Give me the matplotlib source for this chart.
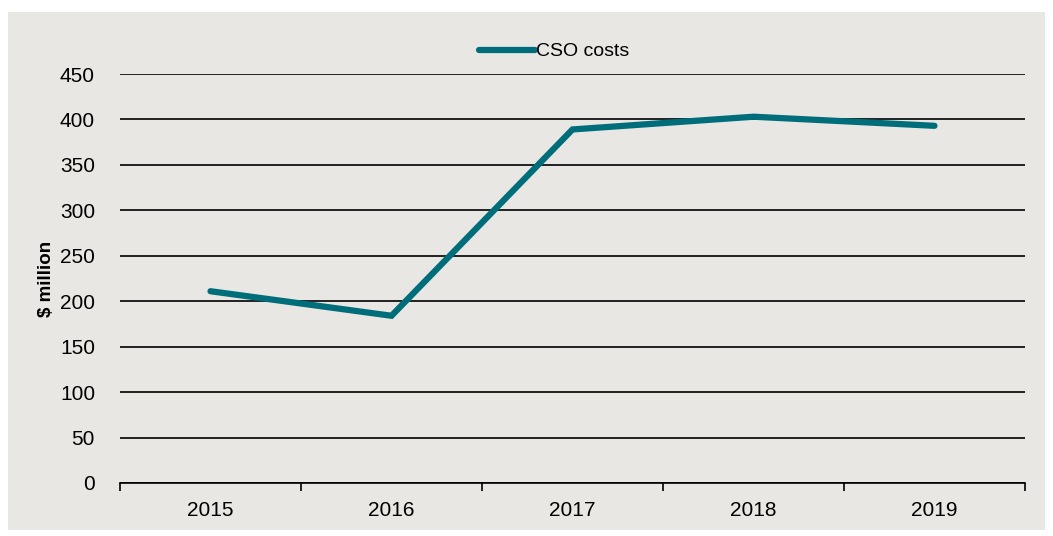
import matplotlib
matplotlib.use("Agg")
import matplotlib.pyplot as plt
from matplotlib.patches import Rectangle
import numpy as np

years = ['2015', '2016', '2017', '2018', '2019']
cso_costs = [211, 184, 389, 403, 393]
yticks = [0, 50, 100, 150, 200, 250, 300, 350, 400, 450]

bg = '#e8e7e3'
teal = '#006e7a'

plt.rcParams['font.family'] = ['Liberation Sans', 'DejaVu Sans']

fig = plt.figure(figsize=(10.53, 5.36), dpi=100)
fig.patch.set_facecolor('white')
# grey panel behind the chart
fig.patches.append(Rectangle((8/1053, 6/536), 1037/1053, 518/536,
                             transform=fig.transFigure, facecolor=bg,
                             edgecolor='none', zorder=-10))

ax = fig.add_axes([120/1053, 1-483/536, 905/1053, 409/536])
ax.set_facecolor('none')

x = np.arange(len(years))
ax.plot(x, cso_costs, color=teal, lw=4.5, solid_capstyle='round',
        solid_joinstyle='miter', label='CSO costs', zorder=3)

ax.set_ylim(0, 450)
ax.set_xlim(-0.5, len(years)-0.5)
ax.set_yticks(yticks)
ax.yaxis.grid(True, color='black', lw=1.2)
ax.set_axisbelow(True)
ax.tick_params(axis='y', length=0, labelsize=15, pad=18)

ax.set_xticks(x)
ax.set_xticklabels(years)
ax.set_xticks(np.arange(len(years)+1)-0.5, minor=True)
ax.tick_params(axis='x', which='major', length=0, labelsize=15, pad=13)
ax.tick_params(axis='x', which='minor', length=6, width=1.2, direction='out')

for s in ['left', 'right', 'top']:
    ax.spines[s].set_visible(False)
ax.spines['bottom'].set_linewidth(1.2)

ax.set_ylabel('$ million', fontsize=13.5, fontweight='bold')
ax.yaxis.set_label_coords(-0.072, 0.5)

leg = ax.legend(loc='lower center', bbox_to_anchor=(0.48, 1.0), frameon=False,
                fontsize=14, handlelength=2.9, handletextpad=0.05,
                borderaxespad=0.3)

fig.savefig('out.png', dpi=100)
